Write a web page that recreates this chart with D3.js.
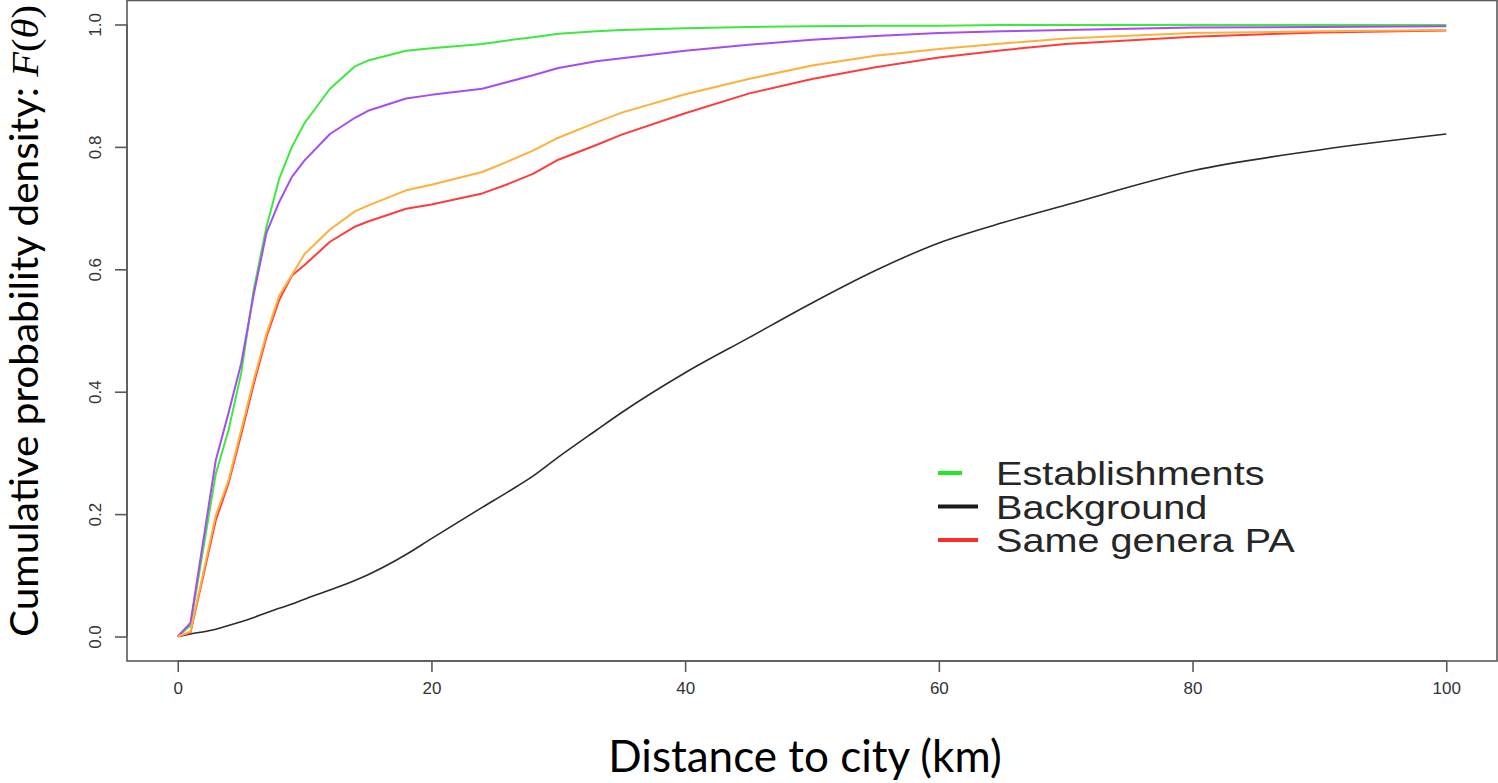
<!DOCTYPE html>
<html>
<head>
<meta charset="utf-8">
<script src="https://cdn.jsdelivr.net/npm/d3@7"></script>
<style>
  body { margin: 0; background: #ffffff; }
  svg { display: block; }
</style>
</head>
<body>
<script>
// chart data (distance in km, cumulative share)
var distances = [0, 1, 3, 4, 5, 6, 7, 8, 9, 10, 12, 14, 15, 18, 20, 24, 26, 28, 30, 33, 35, 40, 45, 50, 55, 60, 65, 70, 80, 90, 100];

var establishments = [0, 0.018, 0.266, 0.337, 0.43, 0.568, 0.67, 0.748, 0.80, 0.839, 0.895, 0.932, 0.941, 0.957, 0.961, 0.968, 0.974, 0.979, 0.985, 0.989, 0.991, 0.994, 0.996, 0.997, 0.998, 0.998, 0.999, 0.999, 0.999, 0.999, 0.999];
var purpleSeries = [0, 0.022, 0.288, 0.365, 0.446, 0.56, 0.66, 0.71, 0.751, 0.778, 0.821, 0.848, 0.859, 0.879, 0.885, 0.895, 0.906, 0.917, 0.929, 0.94, 0.945, 0.957, 0.967, 0.975, 0.981, 0.986, 0.989, 0.991, 0.995, 0.996, 0.997];
var orangeSeries = [0, 0.008, 0.198, 0.255, 0.337, 0.42, 0.495, 0.557, 0.591, 0.625, 0.665, 0.695, 0.704, 0.729, 0.738, 0.759, 0.776, 0.794, 0.815, 0.84, 0.856, 0.886, 0.911, 0.933, 0.949, 0.96, 0.969, 0.977, 0.986, 0.989, 0.991];
var sameGeneraPA = [0, 0.006, 0.19, 0.25, 0.33, 0.413, 0.49, 0.55, 0.59, 0.607, 0.645, 0.67, 0.678, 0.699, 0.706, 0.724, 0.739, 0.756, 0.779, 0.803, 0.82, 0.855, 0.887, 0.911, 0.93, 0.946, 0.958, 0.968, 0.98, 0.987, 0.99];
var background = [0, 0.004, 0.012, 0.018, 0.024, 0.031, 0.039, 0.046, 0.053, 0.061, 0.076, 0.092, 0.101, 0.134, 0.16, 0.211, 0.236, 0.262, 0.293, 0.337, 0.366, 0.431, 0.488, 0.545, 0.598, 0.643, 0.676, 0.705, 0.761, 0.795, 0.821];

var xTicks = [0, 20, 40, 60, 80, 100];
var yTicks = [0, 0.2, 0.4, 0.6, 0.8, 1.0];

var legendNames = ["Establishments", "Background", "Same genera PA"];

// sizes
var width = 1498, height = 783;
var boxLeft = 127, boxRight = 1497, boxTop = 0, boxBottom = 661;

var svg = d3.select("body").append("svg")
  .attr("width", width)
  .attr("height", height)
  .style("background", "#ffffff");

// R style: 4% padding on both axes
var x = d3.scaleLinear().domain([-4, 104]).range([boxLeft, boxRight]);
var y = d3.scaleLinear().domain([-0.04, 1.04]).range([boxBottom, boxTop]);

// the box
svg.append("rect")
  .attr("x", boxLeft).attr("y", boxTop + 0.5)
  .attr("width", boxRight - boxLeft).attr("height", boxBottom - boxTop - 0.5)
  .attr("fill", "none")
  .attr("stroke", "#5a5a5a")
  .attr("stroke-width", 1.6);

// x axis
var xAxis = svg.append("g")
  .attr("transform", "translate(0," + boxBottom + ")")
  .call(d3.axisBottom(x).tickValues(xTicks).tickFormat(d3.format("d")).tickSize(11).tickPadding(10));
xAxis.select(".domain").attr("d", "M" + x(0) + ",0H" + x(100)).attr("stroke", "#5a5a5a").attr("stroke-width", 1.6);
xAxis.selectAll(".tick line").attr("stroke", "#5a5a5a").attr("stroke-width", 1.6);
xAxis.selectAll(".tick text")
  .attr("fill", "#333")
  .style("font-family", "'Liberation Sans', Arial, sans-serif")
  .style("font-size", "17px");

// y axis, labels turned like R does
var yAxis = svg.append("g")
  .attr("transform", "translate(" + boxLeft + ",0)")
  .call(d3.axisLeft(y).tickValues(yTicks).tickFormat(d3.format(".1f")).tickSize(12));
yAxis.select(".domain").attr("d", "M0," + y(0) + "V" + y(1)).attr("stroke", "#5a5a5a").attr("stroke-width", 1.6);
yAxis.selectAll(".tick line").attr("stroke", "#5a5a5a").attr("stroke-width", 1.6);
yAxis.selectAll(".tick text")
  .attr("x", null).attr("dy", null)
  .attr("text-anchor", "middle")
  .attr("transform", "translate(-26,0) rotate(-90)")
  .attr("fill", "#333")
  .style("font-family", "'Liberation Sans', Arial, sans-serif")
  .style("font-size", "17px");

// the curves
var series = [
  { values: background, color: "#2b2b2b", w: 1.6, curve: d3.curveMonotoneX },
  { values: establishments, color: "#3ee83e", w: 2, curve: d3.curveLinear },
  { values: purpleSeries, color: "#a64cf2", w: 2, curve: d3.curveLinear },
  { values: sameGeneraPA, color: "#ff3c3c", w: 2, curve: d3.curveLinear },
  { values: orangeSeries, color: "#ffb03a", w: 2, curve: d3.curveLinear }
];

var linegroup = svg.append("g").attr("id", "linegroup");
series.forEach(function(s) {
  var line = d3.line()
    .x(function(d, i) { return x(distances[i]); })
    .y(function(d) { return y(d); })
    .curve(s.curve);
  linegroup.append("path")
    .datum(s.values)
    .attr("d", line)
    .attr("fill", "none")
    .attr("stroke", s.color)
    .attr("stroke-width", s.w)
    .attr("stroke-linejoin", "round");
});

// legend (only three entries, like the original)
var legendColors = ["#22e822", "#1a1a1a", "#ff2a2a"];
var legendLineEnd = [962, 978, 978];
var legendgroup = svg.append("g").attr("id", "legendgroup");
legendNames.forEach(function(name, i) {
  var by = 485 + i * 33.5;
  legendgroup.append("line")
    .attr("x1", 938).attr("x2", legendLineEnd[i])
    .attr("y1", by - 12).attr("y2", by - 12)
    .attr("stroke", legendColors[i])
    .attr("stroke-width", 4);
  legendgroup.append("text")
    .attr("transform", "translate(996," + by + ") scale(1.2,1)")
    .attr("fill", "#262626")
    .style("font-family", "'Liberation Sans', Arial, sans-serif")
    .style("font-size", "33px")
    .text(name);
});

// axis titles
svg.append("text")
  .attr("x", 805).attr("y", 772)
  .attr("text-anchor", "middle")
  .attr("fill", "#000")
  .style("font-family", "Lato, 'Open Sans', sans-serif")
  .style("font-size", "44px")
  .text("Distance to city (km)");

// y title, stretched to run the whole left edge like the original
var ytitle = svg.append("text")
  .attr("transform", "translate(38,321) rotate(-90)")
  .attr("text-anchor", "middle")
  .attr("textLength", 632)
  .attr("lengthAdjust", "spacingAndGlyphs")
  .attr("fill", "#000")
  .style("font-family", "Lato, 'Open Sans', sans-serif")
  .style("font-size", "38px");
ytitle.append("tspan").text("Cumulative probability density: ");
ytitle.append("tspan").style("font-family", "'Liberation Serif', serif").style("font-style", "italic").text("F");
ytitle.append("tspan").style("font-family", "'Liberation Serif', serif").text("(");
ytitle.append("tspan").style("font-family", "'Liberation Serif', serif").style("font-style", "italic").text("θ");
ytitle.append("tspan").style("font-family", "'Liberation Serif', serif").text(")");
</script>
</body>
</html>
